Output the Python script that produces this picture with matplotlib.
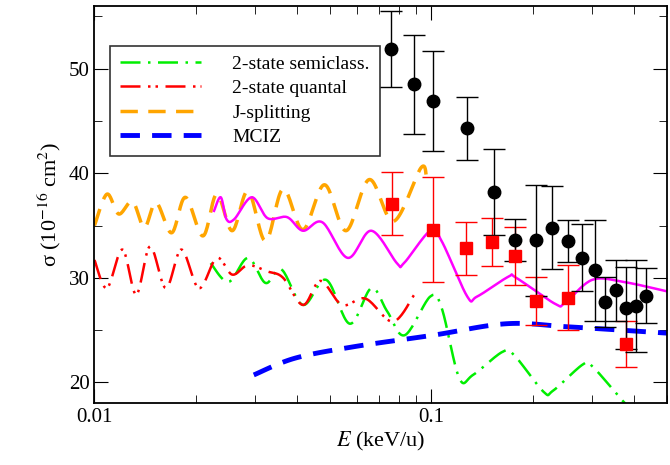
import numpy as np
import matplotlib
matplotlib.use("Agg")
import matplotlib.pyplot as plt
from matplotlib.ticker import MultipleLocator, FixedLocator, NullFormatter

plt.rcParams['font.family'] = ['Liberation Serif', 'DejaVu Serif']
plt.rcParams['mathtext.fontset'] = 'stix'

# data: energies as log10(E / keV/u)
exp_black_logE = [-1.120, -1.050, -0.995, -0.894, -0.815, -0.750, -0.690, -0.642, -0.595, -0.553, -0.515, -0.485, -0.450, -0.421, -0.391, -0.363]
exp_black_sig = [51.9, 48.5, 46.9, 44.3, 38.2, 33.6, 33.6, 34.8, 33.5, 31.9, 30.7, 27.7, 28.8, 27.1, 27.3, 28.3]
exp_black_err = [3.6, 4.7, 4.8, 3.0, 4.1, 2.0, 5.3, 4.0, 2.0, 3.2, 4.8, 2.4, 2.9, 3.9, 4.4, 2.6]

exp_red_logE = [-1.118, -0.995, -0.896, -0.820, -0.750, -0.690, -0.593, -0.421]
exp_red_sig = [37.1, 34.6, 32.8, 33.4, 32.1, 27.8, 28.1, 23.7]
exp_red_err = [3.0, 5.0, 2.5, 2.3, 2.8, 2.3, 3.1, 2.2]

mciz_logE = [-1.527, -1.405, -1.230, -0.995, -0.777, -0.591, -0.300]
mciz_sig = [20.7, 22.3, 23.4, 24.5, 25.6, 25.3, 24.7]

magenta_logE = [-1.645, -1.625, -1.608, -1.585, -1.533, -1.486, -1.428, -1.381, -1.323, -1.248, -1.178, -1.102, -1.081, -1.003, -0.969, -0.893, -0.864, -0.771, -0.748, -0.632, -0.603, -0.522, -0.429, -0.300]
magenta_sig = [36.4, 37.7, 35.6, 35.6, 37.7, 35.7, 35.8, 34.5, 35.3, 31.9, 34.5, 31.4, 31.4, 34.5, 33.5, 28.2, 28.2, 30.1, 30.0, 27.5, 27.6, 29.8, 29.6, 28.7]

jsplit_logE = [-2.000, -1.963, -1.928, -1.887, -1.852, -1.817, -1.771, -1.730, -1.678, -1.637, -1.591, -1.544, -1.492, -1.440, -1.381, -1.317, -1.253, -1.184, -1.112, -1.031, -1.014]
jsplit_sig = [35.0, 38.0, 36.1, 37.3, 34.8, 37.2, 34.3, 37.7, 34.0, 38.0, 34.5, 38.3, 33.5, 38.5, 34.6, 38.9, 34.5, 39.4, 35.4, 40.5, 39.6]

quantal_logE = [-2.000, -1.963, -1.917, -1.876, -1.835, -1.788, -1.742, -1.690, -1.637, -1.591, -1.544, -1.486, -1.440, -1.381, -1.329, -1.265, -1.195, -1.114, -1.050]
quantal_sig = [31.7, 29.0, 32.7, 28.4, 33.0, 29.0, 32.7, 29.0, 31.9, 30.3, 31.2, 30.6, 30.0, 27.4, 29.7, 27.4, 28.0, 25.8, 28.4]

semi_logE = [-1.655, -1.602, -1.544, -1.492, -1.445, -1.381, -1.312, -1.242, -1.178, -1.131, -1.079, -1.003, -0.969, -0.917, -0.876, -0.789, -0.754, -0.667, -0.638, -0.550, -0.521, -0.428, -0.393]
semi_sig = [31.4, 29.6, 31.9, 29.5, 30.8, 27.4, 29.8, 25.6, 29.0, 26.8, 24.5, 28.2, 27.1, 20.4, 20.7, 22.9, 22.6, 19.1, 19.2, 21.7, 21.5, 18.1, 17.1]


def smooth(logE, sig, n=20):
    # centripetal-free Catmull-Rom through the read points
    p = np.column_stack([logE, sig]).astype(float)
    p = np.vstack([p[0], p, p[-1]])
    xs, ys = [], []
    t = np.linspace(0, 1, n, endpoint=False)[:, None]
    for i in range(1, len(p) - 2):
        p0, p1, p2, p3 = p[i - 1], p[i], p[i + 1], p[i + 2]
        c = 0.5 * ((2 * p1) + (-p0 + p2) * t + (2 * p0 - 5 * p1 + 4 * p2 - p3) * t ** 2
                   + (-p0 + 3 * p1 - 3 * p2 + p3) * t ** 3)
        xs.append(c[:, 0]); ys.append(c[:, 1])
    xs.append([p[-2, 0]]); ys.append([p[-2, 1]])
    return 10 ** np.concatenate(xs), np.concatenate(ys)


fig = plt.figure(figsize=(6.7, 4.65), dpi=100)
ax = fig.add_axes([0.141, 0.133, 0.854, 0.854])

x, y = smooth(semi_logE, semi_sig)
ax.plot(x, y, color='#00ee00', lw=1.8, dashes=[8, 3, 1, 3], label='2-state semiclass.')
x, y = smooth(quantal_logE, quantal_sig)
ax.plot(x, y, color='red', lw=1.8, dashes=[8, 3, 1, 2, 1, 3], label='2-state quantal')
x, y = smooth(jsplit_logE, jsplit_sig)
ax.plot(x, y, color='orange', lw=2.5, dashes=[5, 3], label='J-splitting')
x, y = smooth(mciz_logE, mciz_sig)
ax.plot(x, y, color='blue', lw=3.5, dashes=[4, 2.5], label='MCIZ')
x, y = smooth(magenta_logE, magenta_sig)
ax.plot(x, y, color='magenta', lw=1.8)

ax.errorbar(10 ** np.array(exp_red_logE), exp_red_sig, yerr=exp_red_err, fmt='s', color='red',
            ms=8, capsize=8, elinewidth=1, capthick=1)
ax.errorbar(10 ** np.array(exp_black_logE), exp_black_sig, yerr=exp_black_err, fmt='o', color='black',
            ms=9, capsize=8, elinewidth=1, capthick=1)

ax.set_xscale('log')
ax.set_xlim(0.01, 0.5)
ax.set_ylim(18, 56)
ax.xaxis.set_major_locator(FixedLocator([0.01, 0.1]))
ax.xaxis.set_minor_locator(FixedLocator([k * 10.0 ** e for e in (-2, -1) for k in range(2, 10)]))
ax.xaxis.set_minor_formatter(NullFormatter())
ax.set_xticklabels(['0.01', '0.1'])
ax.yaxis.set_major_locator(MultipleLocator(10))
ax.yaxis.set_minor_locator(MultipleLocator(5))
ax.tick_params(which='both', direction='in', top=True, right=True, labelsize=15)
ax.tick_params(which='major', length=10)
ax.tick_params(which='minor', length=6)
for s in ax.spines.values():
    s.set_linewidth(1.3)

ax.set_xlabel(r'$E$ (keV/u)', fontsize=16, labelpad=2)
ax.set_ylabel(r'σ (10$^{-16}$ cm$^2$)', fontsize=16)

leg = ax.legend(loc='upper left', bbox_to_anchor=(0.01, 0.925), fontsize=14, frameon=True,
                fancybox=False, edgecolor='black', handlelength=4.2, handletextpad=1.6,
                borderpad=0.5, labelspacing=0.35)
leg.get_frame().set_linewidth(1.2)

fig.savefig('out.png', dpi=100)
